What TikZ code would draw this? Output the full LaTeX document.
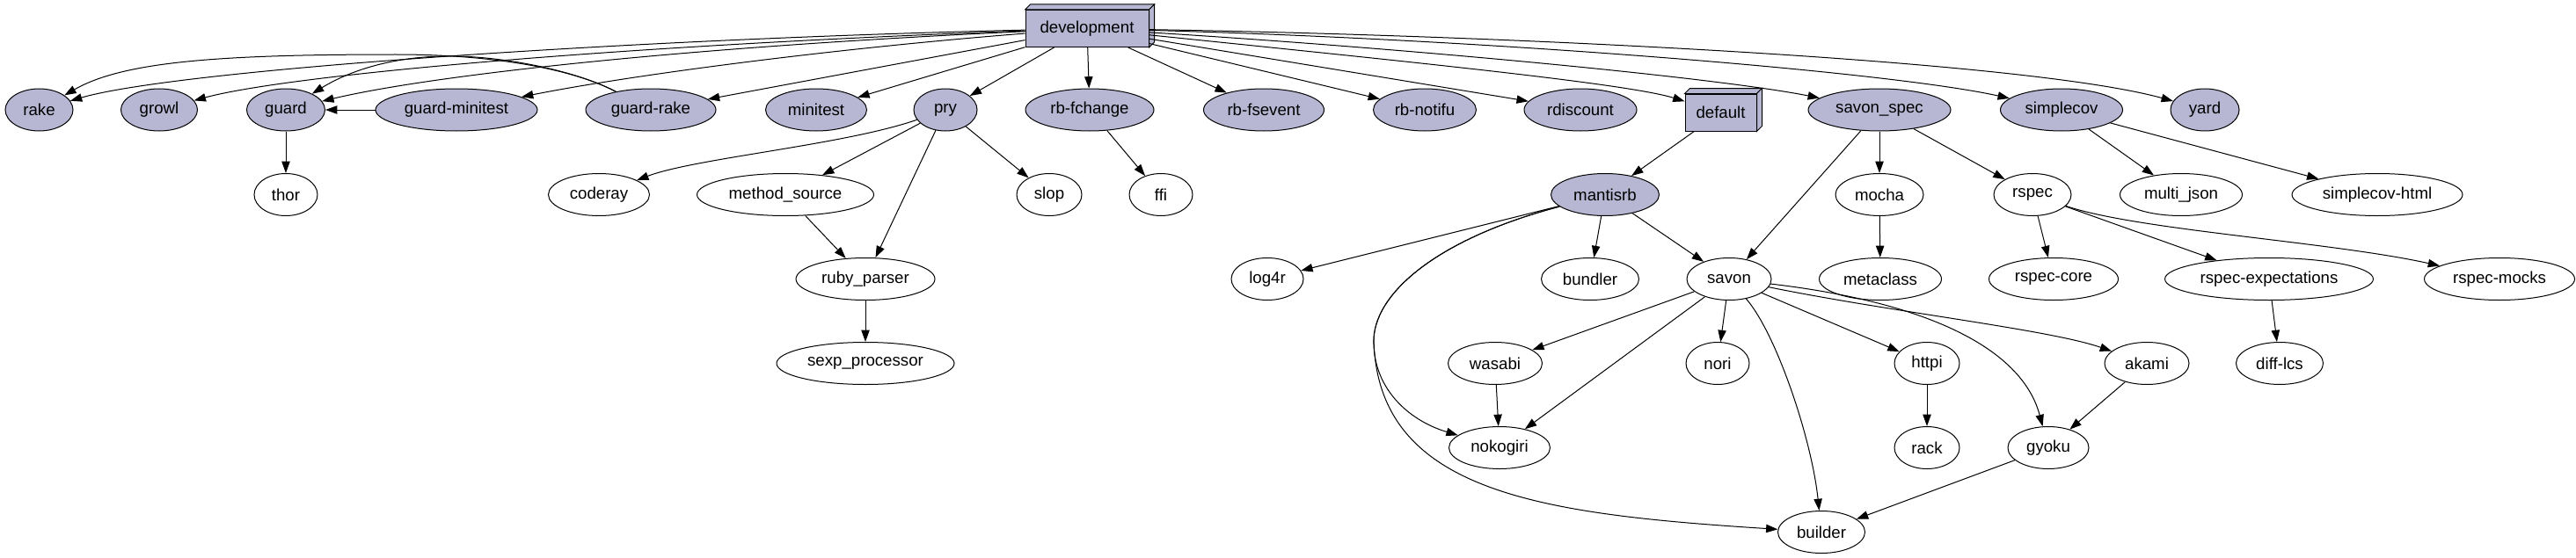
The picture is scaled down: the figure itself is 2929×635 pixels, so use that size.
\documentclass[tikz,border=0pt]{standalone}
\usepackage{fontspec}
\setmainfont{Liberation Sans}
\usetikzlibrary{arrows.meta,shapes.geometric}
\definecolor{gvfill}{RGB}{183,183,212}
\tikzset{
  gv/.style={ellipse, draw, line width=0.75pt, inner sep=0pt, minimum height=36pt,
    font=\fontsize{14pt}{16pt}\selectfont},
  gvf/.style={gv, fill=gvfill},
  ew/.style={minimum width=#1*0.75pt},
  boxthree/.style={rectangle, draw, fill=gvfill, line width=0.75pt, inner sep=0pt,
    minimum height=31.5pt, font=\fontsize{14pt}{16pt}\selectfont},
  arr/.style={line width=0.75pt, -{Triangle[length=10pt,width=7pt]}}
}
\begin{document}
\begin{tikzpicture}[x=0.75pt,y=-0.75pt]
\useasboundingbox (0,0) rectangle (2929,635);
% row 1
\node[boxthree, ew=140] (dev) at (1236,32.5) {development};
\node[gvf, ew=77]  (rake)     at (44.5,125) {rake};
\node[gvf, ew=87]  (growl)    at (181,125) {growl};
\node[gvf, ew=89]  (guard)    at (325,125) {guard};
\node[gvf, ew=184] (gmini)    at (519,125) {guard-minitest};
\node[gvf, ew=148] (grake)    at (740,125) {guard-rake};
\node[gvf, ew=115] (minitest) at (928,125) {minitest};
\node[gvf, ew=72]  (pry)      at (1075,125) {pry};
\node[gvf, ew=146] (rbfc)     at (1239,125) {rb-fchange};
\node[gvf, ew=137] (rbfs)     at (1437,125) {rb-fsevent};
\node[gvf, ew=117] (rbnot)    at (1620,125) {rb-notifu};
\node[gvf, ew=128] (rdisc)    at (1797,125) {rdiscount};
\node[boxthree, ew=81] (dflt) at (1956.5,128) {default};
\node[gvf, ew=162] (sspec)    at (2137,125) {savon\_spec};
\node[gvf, ew=139] (scov)     at (2344,125) {simplecov};
\node[gvf, ew=78]  (yard)     at (2507,125) {yard};
% 3d faces
\foreach \b in {dev,dflt}{
  \filldraw[fill=gvfill, line width=0.75pt] (\b.north west) -- ++(6,-6) -- ([shift={(6,-6)}]\b.north east) -- (\b.north east) -- cycle;
  \filldraw[fill=gvfill, line width=0.75pt] (\b.north east) -- ++(6,-6) -- ([shift={(6,-6)}]\b.south east) -- (\b.south east) -- cycle;
}
% row 2
\node[gv, ew=72]  (thor)    at (325,221.5) {thor};
\node[gv, ew=115] (coderay) at (681,221.5) {coderay};
\node[gv, ew=201] (msrc)    at (893,221.5) {method\_source};
\node[gv, ew=74]  (slop)    at (1193,221.5) {slop};
\node[gv, ew=72]  (ffi)     at (1320,221.5) {ffi};
\node[gvf, ew=123] (mantis) at (1825,221.5) {mantisrb};
\node[gv, ew=100] (mocha)   at (2137,221.5) {mocha};
\node[gv, ew=88]  (rspec)   at (2311,221.5) {rspec};
\node[gv, ew=139] (mjson)   at (2480,221.5) {multi\_json};
\node[gv, ew=194] (scovh)   at (2703,221.5) {simplecov-html};
% row 3
\node[gv, ew=158] (rparser)   at (984,317.5) {ruby\_parser};
\node[gv, ew=82]  (log4r)     at (1441,317.5) {log4r};
\node[gv, ew=111] (bundler)   at (1808,317.5) {bundler};
\node[gv, ew=96]  (savon)     at (1966,317.5) {savon};
\node[gv, ew=139] (metaclass) at (2138,317.5) {metaclass};
\node[gv, ew=147] (rcore)     at (2335,317.5) {rspec-core};
\node[gv, ew=237] (rexp)      at (2580,317.5) {rspec-expectations};
\node[gv, ew=171] (rmocks)    at (2842,317.5) {rspec-mocks};
% row 4
\node[gv, ew=202] (sexp)    at (984,413.5) {sexp\_processor};
\node[gv, ew=107] (wasabi)  at (1700,413.5) {wasabi};
\node[gv, ew=72]  (nori)    at (1953,413.5) {nori};
\node[gv, ew=74]  (httpi)   at (2191,413.5) {httpi};
\node[gv, ew=96]  (akami)   at (2441,413.5) {akami};
\node[gv, ew=99]  (difflcs) at (2592,413.5) {diff-lcs};
% row 5
\node[gv, ew=115] (nokogiri) at (1705,509.5) {nokogiri};
\node[gv, ew=74]  (rack)     at (2191,509.5) {rack};
\node[gv, ew=92]  (gyoku)    at (2329,509.5) {gyoku};
% row 6
\node[gv, ew=99] (builder) at (2071,605.5) {builder};
% edges from development
\draw[arr] (dev) .. controls (700,45) and (200,80) .. (rake);
\draw[arr] (dev) .. controls (700,52) and (330,85) .. (growl);
\draw[arr] (dev) .. controls (750,55) and (480,88) .. (guard);
\draw[arr] (dev) .. controls (950,55) and (720,85) .. (gmini);
\draw[arr] (dev) -- (grake);
\draw[arr] (dev) -- (minitest);
\draw[arr] (dev) -- (pry);
\draw[arr] (dev) -- (rbfc);
\draw[arr] (dev) -- (rbfs);
\draw[arr] (dev) -- (rbnot);
\draw[arr] (dev) -- (rdisc);
\draw[arr] (dev) .. controls (1600,70) and (1850,95) .. (dflt);
\draw[arr] (dev) .. controls (1600,55) and (1950,88) .. (sspec);
\draw[arr] (dev) .. controls (1700,45) and (2150,82) .. (scov);
\draw[arr] (dev) .. controls (1700,40) and (2300,68) .. (yard);
% guard group
\draw[arr] (grake) .. controls (650,78) and (560,62) .. (450,62) .. controls (250,62) and (140,70) .. (rake);
\draw[arr] (grake) .. controls (650,78) and (560,62) .. (500,64) .. controls (440,66) and (395,82) .. (guard);
\draw[arr] (gmini) -- (guard);
\draw[arr] (guard) -- (thor);
% pry group
\draw[arr] (pry) .. controls (960,165) and (790,180) .. (coderay);
\draw[arr] (pry) -- (msrc);
\draw[arr] (pry) -- (rparser);
\draw[arr] (pry) -- (slop);
\draw[arr] (msrc) -- (rparser);
\draw[arr] (rparser) -- (sexp);
\draw[arr] (rbfc) -- (ffi);
% default / mantisrb
\draw[arr] (dflt) -- (mantis);
\draw[arr] (mantis) -- (log4r);
\draw[arr] (mantis) -- (bundler);
\draw[arr] (mantis) -- (savon);
\draw[arr] (mantis) .. controls (1640,270) and (1565,330) .. (1562,385) .. controls (1560,440) and (1600,478) .. (nokogiri);
\draw[arr] (mantis) .. controls (1640,270) and (1565,330) .. (1562,385) .. controls (1565,560) and (1750,585) .. (builder);
% savon_spec group
\draw[arr] (sspec) -- (savon);
\draw[arr] (sspec) -- (mocha);
\draw[arr] (sspec) -- (rspec);
\draw[arr] (mocha) -- (metaclass);
\draw[arr] (rspec) -- (rcore);
\draw[arr] (rspec) -- (rexp);
\draw[arr] (rspec) .. controls (2430,262) and (2650,275) .. (rmocks);
\draw[arr] (rexp) -- (difflcs);
\draw[arr] (scov) -- (mjson);
\draw[arr] (scov) -- (scovh);
% savon group
\draw[arr] (savon) -- (wasabi);
\draw[arr] (savon) -- (nokogiri);
\draw[arr] (savon) -- (nori);
\draw[arr] (savon) .. controls (2020,380) and (2060,500) .. (builder);
\draw[arr] (savon) -- (httpi);
\draw[arr] (savon) .. controls (2200,345) and (2300,400) .. (gyoku);
\draw[arr] (savon) .. controls (2150,355) and (2330,375) .. (akami);
\draw[arr] (wasabi) -- (nokogiri);
\draw[arr] (httpi) -- (rack);
\draw[arr] (akami) -- (gyoku);
\draw[arr] (gyoku) -- (builder);
\end{tikzpicture}
\end{document}
